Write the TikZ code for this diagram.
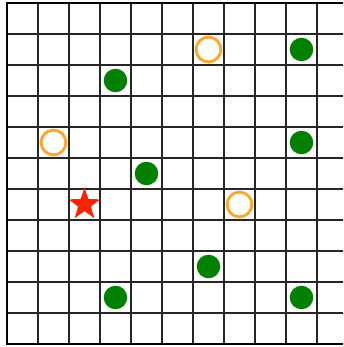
\documentclass[tikz,border=0pt]{standalone}
\usetikzlibrary{shapes.geometric}
\definecolor{dotgreen}{HTML}{008000}
\definecolor{ringorange}{HTML}{FFA530}
\definecolor{starred}{HTML}{FF2200}
\begin{document}
\begin{tikzpicture}[x=0.8cm,y=0.8cm,
  gridline/.style={line width=0.95pt,black!85},
  border/.style={line width=2pt,black},
  gdot/.style={circle,fill=dotgreen,inner sep=0pt,minimum size=0.76*0.8cm},
  oring/.style={circle,draw=ringorange,line width=2.1pt,fill=white,inner sep=0pt,minimum size=0.8*0.8cm},
  rstar/.style={star,star points=5,star point ratio=2.5,fill=starred,inner sep=0pt,minimum size=1.08*0.8cm}]
\useasboundingbox (-0.2258,-0.0968) rectangle (10.839,11.0968);
\clip (-0.2258,-0.0968) rectangle (10.839,11.0968);
\foreach \i in {1,...,11} \draw[gridline] (\i,0) -- (\i,11);
\foreach \j in {1,...,10} \draw[gridline] (0,\j) -- (12,\j);
\draw[border] (12,11) -- (0,11) -- (0,0) -- (12,0);
\node[gdot] (g1) at (3.5,8.5) {};
\node[gdot] (g2) at (9.5,9.5) {};
\node[gdot] (g3) at (9.5,6.5) {};
\node[gdot] (g4) at (4.5,5.5) {};
\node[gdot] (g5) at (6.5,2.5) {};
\node[gdot] (g6) at (3.5,1.5) {};
\node[gdot] (g7) at (9.5,1.5) {};
\node[oring] (o1) at (6.5,9.5) {};
\node[oring] (o2) at (1.5,6.5) {};
\node[oring] (o3) at (7.5,4.5) {};
\node[rstar] (s1) at (2.5,4.5) {};
\end{tikzpicture}
\end{document}
